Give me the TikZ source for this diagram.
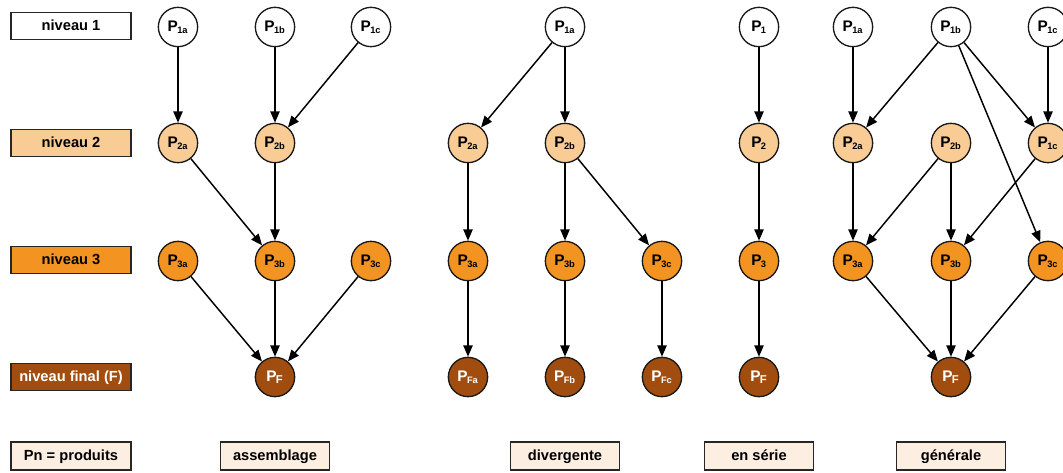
\documentclass[tikz,border=0pt]{standalone}
\usepackage{fontspec}
\setmainfont{Liberation Sans}
\usetikzlibrary{arrows.meta}
\definecolor{lvltwo}{HTML}{F9CC95}
\definecolor{lvlthree}{HTML}{F39322}
\definecolor{lvlfinal}{HTML}{A14D0F}
\definecolor{legendfill}{HTML}{FDEEE2}
\tikzset{
  x=0.75pt, y=-0.75pt,
  lvlbox/.style={draw=black!85, line width=1.1pt, minimum width=90pt, minimum height=20.5pt,
    inner sep=0pt, text height=8pt, text depth=2pt, font=\fontsize{11}{13}\selectfont\bfseries},
  typebox/.style={draw=black!85, line width=1.1pt, fill=legendfill, minimum width=81.5pt,
    minimum height=21pt, inner sep=0pt, text height=8pt, text depth=2pt,
    font=\fontsize{11}{13}\selectfont\bfseries},
  prod/.style={circle, draw=black!90, line width=1pt, minimum size=29.5pt, inner sep=0pt,
    font=\fontsize{11.5}{13}\selectfont\bfseries},
  p1/.style={prod, fill=white},
  p2/.style={prod, fill=lvltwo},
  p3/.style={prod, fill=lvlthree},
  pf/.style={prod, fill=lvlfinal, text=white},
  flow/.style={line width=1.1pt, -{Triangle[length=8.5pt,width=7pt]}},
}
\newcommand{\Pn}[1]{P\textsubscript{\kern-0.5pt\fontsize{7}{8}\selectfont #1}}
\newcommand{\PF}[1]{P\textsubscript{\kern-0.5pt\fontsize{8.5}{9}\selectfont #1}}
\begin{document}
\begin{tikzpicture}
\useasboundingbox (0,0) rectangle (1063,472);
\clip (0,0) rectangle (1063,472);

% level legend
\node[lvlbox, fill=white] (l1) at (71,26) {niveau 1};
\node[lvlbox, fill=lvltwo] (l2) at (71,143) {niveau 2};
\node[lvlbox, fill=lvlthree] (l3) at (71,260) {niveau 3};
\node[lvlbox, fill=lvlfinal, text=white] (lf) at (71,377) {niveau final (F)};
\node[lvlbox, fill=legendfill, minimum height=21pt] (pn) at (71,456) {Pn = produits};

% assemblage
\node[p1] (a1a) at (178,27) {\Pn{1a}};
\node[p1] (a1b) at (275,27) {\Pn{1b}};
\node[p1] (a1c) at (371,27) {\Pn{1c}};
\node[p2] (a2a) at (178,143) {\Pn{2a}};
\node[p2] (a2b) at (275,143) {\Pn{2b}};
\node[p3] (a3a) at (178,261) {\Pn{3a}};
\node[p3] (a3b) at (275,261) {\Pn{3b}};
\node[p3] (a3c) at (371,261) {\Pn{3c}};
\node[pf] (af) at (275,377) {\PF{F}};
\node[typebox] (ta) at (275,456) {assemblage};
\draw[flow] (a1a) -- (a2a);
\draw[flow] (a1b) -- (a2b);
\draw[flow] (a1c) -- (a2b);
\draw[flow] (a2a) -- (a3b);
\draw[flow] (a2b) -- (a3b);
\draw[flow] (a3a) -- (af);
\draw[flow] (a3b) -- (af);
\draw[flow] (a3c) -- (af);

% divergente
\node[p1] (d1a) at (565,27) {\Pn{1a}};
\node[p2] (d2a) at (468,143) {\Pn{2a}};
\node[p2] (d2b) at (565,143) {\Pn{2b}};
\node[p3] (d3a) at (468,261) {\Pn{3a}};
\node[p3] (d3b) at (565,261) {\Pn{3b}};
\node[p3] (d3c) at (662,261) {\Pn{3c}};
\node[pf] (dfa) at (468,377) {\Pn{Fa}};
\node[pf] (dfb) at (565,377) {\Pn{Fb}};
\node[pf] (dfc) at (662,377) {\Pn{Fc}};
\node[typebox] (td) at (565,456) {divergente};
\draw[flow] (d1a) -- (d2a);
\draw[flow] (d1a) -- (d2b);
\draw[flow] (d2a) -- (d3a);
\draw[flow] (d2b) -- (d3b);
\draw[flow] (d2b) -- (d3c);
\draw[flow] (d3a) -- (dfa);
\draw[flow] (d3b) -- (dfb);
\draw[flow] (d3c) -- (dfc);

% en série
\node[p1] (s1) at (759,27) {\Pn{1}};
\node[p2] (s2) at (759,143) {\Pn{2}};
\node[p3] (s3) at (759,261) {\Pn{3}};
\node[pf] (sf) at (759,377) {\PF{F}};
\node[typebox] (ts) at (759,456) {en série};
\draw[flow] (s1) -- (s2);
\draw[flow] (s2) -- (s3);
\draw[flow] (s3) -- (sf);

% générale
\node[p1] (g1a) at (853,27) {\Pn{1a}};
\node[p1] (g1b) at (951,27) {\Pn{1b}};
\node[p1] (g1c) at (1048,27) {\Pn{1c}};
\node[p2] (g2a) at (853,143) {\Pn{2a}};
\node[p2] (g2b) at (951,143) {\Pn{2b}};
\node[p2] (g2c) at (1048,143) {\Pn{1c}};
\node[p3] (g3a) at (853,261) {\Pn{3a}};
\node[p3] (g3b) at (951,261) {\Pn{3b}};
\node[p3] (g3c) at (1048,261) {\Pn{3c}};
\node[pf] (gf) at (951,377) {\PF{F}};
\node[typebox] (tg) at (951,456) {générale};
\draw[flow] (g1a) -- (g2a);
\draw[flow] (g1b) -- (g2a);
\draw[flow] (g1b) -- (g2c);
\draw[flow] (g1c) -- (g2c);
\draw[flow] (g1b) -- (g3c);
\draw[flow] (g2a) -- (g3a);
\draw[flow] (g2b) -- (g3a);
\draw[flow] (g2b) -- (g3b);
\draw[flow] (g2c) -- (g3b);
\draw[flow] (g3a) -- (gf);
\draw[flow] (g3b) -- (gf);
\draw[flow] (g3c) -- (gf);
\end{tikzpicture}
\end{document}
